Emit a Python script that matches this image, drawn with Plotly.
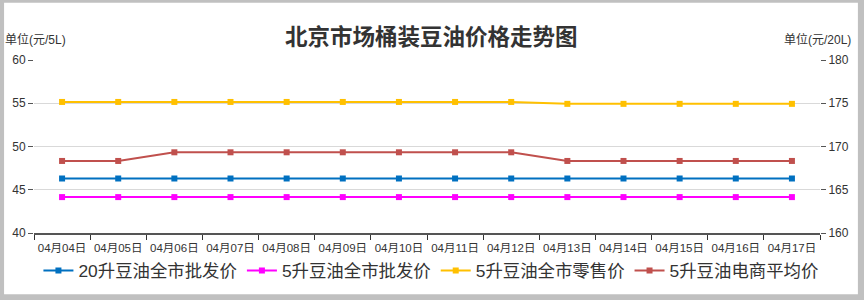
import plotly.graph_objects as go

dates = ["04月04日", "04月05日", "04月06日", "04月07日", "04月08日", "04月09日", "04月10日",
         "04月11日", "04月12日", "04月13日", "04月14日", "04月15日", "04月16日", "04月17日"]
wholesale_20l = [166.3] * 14
wholesale_5l = [44.15] * 14
retail_5l = [55.15, 55.15, 55.15, 55.15, 55.15, 55.15, 55.15, 55.15, 55.15,
             54.93, 54.93, 54.93, 54.93, 54.93]
ecommerce_5l = [48.33, 48.33, 49.33, 49.33, 49.33, 49.33, 49.33, 49.33, 49.33,
                48.33, 48.33, 48.33, 48.33, 48.33]

FONT = "Liberation Sans, Arial, Noto Sans CJK SC, sans-serif"
W, H = 864, 300
L, R, T, B = 32, 820, 60, 235

def px(x):
    return (x - L) / (R - L)

def py(y):
    return (B - y) / (B - T)

fig = go.Figure()
series = [
    ("20升豆油全市批发价", wholesale_20l, "#0070C0", "y2"),
    ("5升豆油全市批发价", wholesale_5l, "#FF00FF", "y"),
    ("5升豆油全市零售价", retail_5l, "#FFC000", "y"),
    ("5升豆油电商平均价", ecommerce_5l, "#C0504D", "y"),
]
for name, vals, col, ax in series:
    fig.add_trace(go.Scatter(
        x=dates, y=vals, name=name, yaxis=ax, mode="lines+markers",
        line=dict(color=col, width=2),
        marker=dict(symbol="square", size=6, color=col),
    ))

fig.update_layout(
    width=W, height=H,
    margin=dict(l=L, r=W - R, t=T, b=H - B),
    paper_bgcolor="#c0c0c0", plot_bgcolor="white",
    font=dict(family=FONT, color="#333333", size=12),
    showlegend=True,
    legend=dict(orientation="h", x=0.505, xanchor="center", y=py(273), yanchor="middle",
                font=dict(size=17.4, color="#333333"), bgcolor="rgba(0,0,0,0)",
                itemwidth=30, traceorder="normal"),
    xaxis=dict(
        type="category", tickson="boundaries", ticks="outside", ticklen=5,
        tickcolor="#333333", showline=True, linecolor="#555555", linewidth=1.5,
        showgrid=False, tickfont=dict(size=11.5, color="#333333"), tickangle=0,
        range=[-0.5, 13.5], ticklabelstandoff=3,
    ),
    yaxis=dict(
        range=[40, 60], dtick=5, ticks="outside", ticklen=5, tickcolor="#555555",
        showgrid=True, gridcolor="#d9d9d9", gridwidth=1, zeroline=False,
        showline=False, tickfont=dict(size=12, color="#333333"),
    ),
    yaxis2=dict(
        range=[160, 180], dtick=5, overlaying="y", side="right", ticks="outside",
        ticklen=5, tickcolor="#555555", showgrid=False, zeroline=False,
        showline=False, tickfont=dict(size=12, color="#333333"),
    ),
    shapes=[dict(type="rect", xref="paper", yref="paper", layer="below",
                 x0=px(2), x1=px(858), y0=py(297), y1=py(2),
                 fillcolor="white", line=dict(width=0))],
    annotations=[
        dict(text="<b>北京市场桶装豆油价格走势图</b>", xref="paper", yref="paper",
             x=px(431), y=py(35), xanchor="center", yanchor="middle", showarrow=False,
             font=dict(size=22.5, color="#333333", family="Noto Sans CJK SC, sans-serif")),
        dict(text="单位(元/5L)", xref="paper", yref="paper", x=px(1), y=py(39),
             xanchor="left", yanchor="middle", showarrow=False,
             font=dict(size=12, color="#333333")),
        dict(text="单位(元/20L)", xref="paper", yref="paper", x=px(853), y=py(39),
             xanchor="right", yanchor="middle", showarrow=False,
             font=dict(size=12, color="#333333")),
    ],
)

fig.write_html("out.html")
